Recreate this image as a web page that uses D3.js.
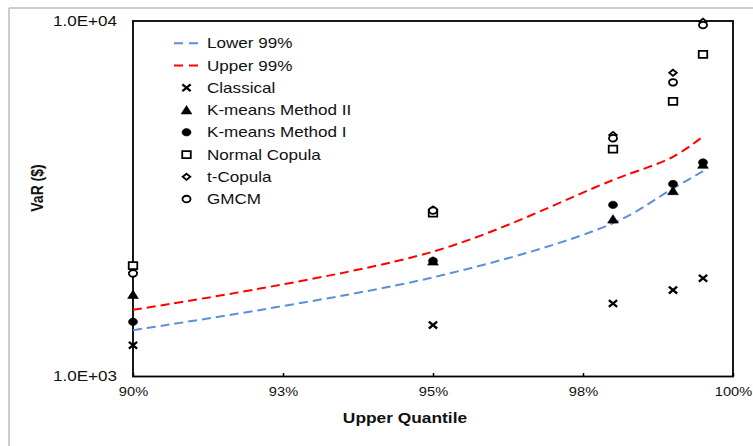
<!DOCTYPE html>
<html>
<head>
<meta charset="utf-8">
<script src="https://cdn.jsdelivr.net/npm/d3@7"></script>
<style>
  html, body { margin: 0; padding: 0; background: #fff; }
  svg { display: block; font-family: "Liberation Sans", Arial, sans-serif; }
</style>
</head>
<body>
<svg id="chart" width="753" height="446"></svg>
<script>
// Upper quantile levels at which VaR was estimated
const quantiles = [0.90, 0.95, 0.98, 0.99, 0.995];

// 99% confidence band
const lower99 = [1350, 1900, 2700, 3380, 3780];
const upper99 = [1540, 2245, 3570, 4150, 4730];

// VaR estimates ($) per method
const classical = [1225, 1395, 1605, 1750, 1890];
const kmeansII  = [1700, 2110, 2770, 3330, 3950];
const kmeansI   = [1425, 2115, 3040, 3480, 4000];
const normalCop = [2050, 2880, 4360, 5940, 8060];
const tCop      = [1960, 2950, 4780, 7150, 9950];
const gmcm      = [1950, 2930, 4680, 6720, 9740];

// Axis ticks
const xTicks = [0.90, 0.925, 0.95, 0.975, 1.00];
const xTickLabels = ["90%", "93%", "95%", "98%", "100%"];
const yTicks = [1000, 10000];
const yTickLabels = ["1.0E+03", "1.0E+04"];

const SX = 1.22; // horizontal glyph stretch

const svg = d3.select("#chart");
const plotLeft = 133, plotRight = 733, plotTop = 21, plotBottom = 376.5;

const x = d3.scaleLinear().domain([0.90, 1.00]).range([plotLeft, plotRight]);
const y = d3.scaleLog().domain([1000, 10000]).range([plotBottom, plotTop]);

// outer border
svg.append("line").attr("x1", 9).attr("y1", 8).attr("x2", 753).attr("y2", 8)
  .attr("stroke", "#bdbdbd").attr("stroke-width", 1.5);
svg.append("line").attr("x1", 9).attr("y1", 8).attr("x2", 9).attr("y2", 446)
  .attr("stroke", "#bdbdbd").attr("stroke-width", 1.5);

// axes
const xAxis = svg.append("g").attr("transform", `translate(0,${plotBottom})`)
  .call(d3.axisBottom(x).tickValues(xTicks).tickSizeInner(-3.5).tickSizeOuter(0)
    .tickPadding(11).tickFormat((d, i) => xTickLabels[i]));
xAxis.select(".domain").remove();
xAxis.selectAll("line").attr("stroke", "#000").attr("stroke-width", 1.5);
xAxis.selectAll("text").attr("font-size", 12).attr("fill", "#111")
  .attr("font-family", "Liberation Sans, Arial, sans-serif")
  .attr("transform", `scale(${SX},1)`);

const yAxis = svg.append("g").attr("transform", `translate(${plotLeft},0)`)
  .call(d3.axisLeft(y).tickValues(yTicks).tickSize(0).tickPadding(16)
    .tickFormat((d, i) => yTickLabels[i]));
yAxis.select(".domain").remove();
yAxis.selectAll("text").attr("font-size", 14).attr("fill", "#111")
  .attr("font-family", "Liberation Sans, Arial, sans-serif")
  .attr("x", -16 / SX).attr("transform", `scale(${SX},1)`);

// plot frame
svg.append("rect").attr("x", plotLeft).attr("y", plotTop)
  .attr("width", plotRight - plotLeft).attr("height", plotBottom - plotTop)
  .attr("fill", "none").attr("stroke", "#000").attr("stroke-width", 1.8);

// axis titles
svg.append("text").attr("transform", `translate(405,423) scale(1.24,1)`)
  .attr("text-anchor", "middle").attr("font-size", 14).attr("font-weight", "bold")
  .attr("fill", "#111").text("Upper Quantile");
svg.append("text").attr("transform", `translate(43,188) rotate(-90) scale(1,1.2)`)
  .attr("text-anchor", "middle").attr("font-size", 14).attr("font-weight", "bold")
  .attr("fill", "#111").text("VaR ($)");

// confidence band lines
const line = d3.line().x(d => x(d[0])).y(d => y(d[1])).curve(d3.curveCatmullRom);
const bands = [
  { name: "Lower 99%", values: lower99, color: "#5A8FDA" },
  { name: "Upper 99%", values: upper99, color: "#FF0000" }
];
bands.forEach(b => {
  svg.append("path").datum(quantiles.map((q, i) => [q, b.values[i]]))
    .attr("d", line).attr("fill", "none").attr("stroke", b.color)
    .attr("stroke-width", 2).attr("stroke-dasharray", "9,5");
});

// marker shapes (unit shapes, stretched horizontally on placement)
function markerPath(type) {
  switch (type) {
    case "cross": { const s = 3.4; return `M${-s},${-s}L${s},${s}M${-s},${s}L${s},${-s}`; }
    case "triangle": return "M0,-4.5L4.4,3.9L-4.4,3.9Z";
    case "dot": return d3.arc()({ innerRadius: 0, outerRadius: 3.7, startAngle: 0, endAngle: 2 * Math.PI });
    case "square": { const s = 3.5; return `M${-s},${-s}H${s}V${s}H${-s}Z`; }
    case "diamond": { const s = 3.1; return `M0,${-s}L${s},0L0,${s}L${-s},0Z`; }
    case "circle": return d3.arc()({ innerRadius: 0, outerRadius: 3.3, startAngle: 0, endAngle: 2 * Math.PI });
  }
}
function drawMarker(g, type, cx, cy) {
  const filled = type === "triangle" || type === "dot";
  g.append("path").attr("d", markerPath(type))
    .attr("transform", `translate(${cx},${cy}) scale(${SX},1)`)
    .attr("fill", filled ? "#000" : (type === "cross" ? "none" : "#fff"))
    .attr("stroke", "#000")
    .attr("stroke-width", type === "cross" ? 2.3 : (filled ? 0.6 : 1.8))
    .attr("vector-effect", "non-scaling-stroke");
}

const methods = [
  { name: "Classical", values: classical, type: "cross" },
  { name: "K-means Method II", values: kmeansII, type: "triangle" },
  { name: "K-means Method I", values: kmeansI, type: "dot" },
  { name: "Normal Copula", values: normalCop, type: "square" },
  { name: "t-Copula", values: tCop, type: "diamond" },
  { name: "GMCM", values: gmcm, type: "circle" }
];
const markG = svg.append("g");
methods.forEach(m => {
  m.values.forEach((v, i) => drawMarker(markG, m.type, x(quantiles[i]), y(v)));
});

// legend
const legend = svg.append("g");
const rowY = i => 43.3 + i * 22.25;
bands.forEach((b, i) => {
  legend.append("line").attr("x1", 174).attr("x2", 199)
    .attr("y1", rowY(i)).attr("y2", rowY(i))
    .attr("stroke", b.color).attr("stroke-width", 2).attr("stroke-dasharray", "9,6");
});
methods.forEach((m, j) => drawMarker(legend, m.type, 186.5, rowY(j + 2)));
[...bands.map(b => b.name), ...methods.map(m => m.name)].forEach((name, i) => {
  legend.append("text").attr("transform", `translate(207,${rowY(i) + 5}) scale(${SX},1)`)
    .attr("font-size", 14).attr("fill", "#111").text(name);
});
</script>
</body>
</html>
